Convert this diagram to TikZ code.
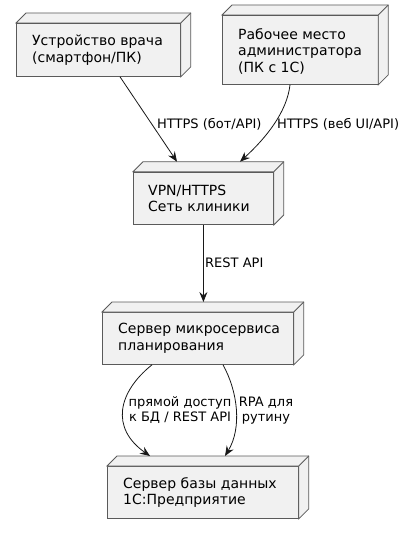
\documentclass[tikz,border=0pt]{standalone}
\usepackage{fontspec}
\setmainfont{DejaVu Sans}
\usetikzlibrary{calc,arrows.meta}
\definecolor{nodef}{HTML}{F1F1F1}
\definecolor{bordc}{HTML}{5A5A5A}
\definecolor{linec}{HTML}{181818}
\tikzset{
  dbox/.style={draw=bordc, fill=nodef, line width=0.8pt, anchor=north west, inner sep=0pt},
  dface/.style={draw=bordc, fill=nodef, line width=0.8pt, line join=miter},
  dtext/.style={anchor=west, inner sep=0pt, align=left, font=\fontsize{14}{16.5}\selectfont},
  elabel/.style={inner sep=0pt, font=\fontsize{13}{15}\selectfont},
  arr/.style={draw=linec, line width=0.8pt, -{Stealth[length=10pt,width=8pt,inset=3.5pt]}},
}
\begin{document}
\begin{tikzpicture}[x=1pt,y=-1pt]
\useasboundingbox (0,0) rectangle (403,534);
% front faces
\node[dbox, minimum width=164pt, minimum height=53pt] (n1) at (16,23) {};
\node[dbox, minimum width=155.5pt, minimum height=69pt] (n2) at (222,15) {};
\node[dbox, minimum width=140pt, minimum height=52.5pt] (n3) at (133,171.7) {};
\node[dbox, minimum width=191pt, minimum height=52pt] (n4) at (102,312) {};
\node[dbox, minimum width=191pt, minimum height=52pt] (n5) at (107,466) {};
% 3D faces
\foreach \n in {n1,n2,n3,n4,n5}{
  \filldraw[dface] (\n.north west) -- ++(10,-10) -- ([shift={(10,-10)}]\n.north east)
     -- ([shift={(10,-10)}]\n.south east) -- (\n.south east) -- (\n.north east) -- cycle;
  \draw[dface] (\n.north east) -- ++(10,-10);
}
% texts
\node[dtext] (t1) at ($(n1.west)+(16,0)$) {Устройство врача\\(смартфон/ПК)};
\node[dtext] (t2) at ($(n2.west)+(16,1.5)$) {Рабочее место\\администратора\\(ПК с 1С)};
\node[dtext] (t3) at ($(n3.west)+(15,0)$) {VPN/HTTPS\\Сеть клиники};
\node[dtext] (t4) at ($(n4.west)+(16,0)$) {Сервер микросервиса\\планирования};
\node[dtext] (t5) at ($(n5.west)+(16,0)$) {Сервер базы данных\\1С:Предприятие};
% connectors
\coordinate (n4top) at ($(n4.north west)+(0,-10)$);
\draw[arr] ($(n1.south west)+(104,0)$) -- ($(n3.north west)+(44,-10)$);
\draw[arr] ($(n2.south west)+(68,0)$) .. controls (287,112) and (266,138) .. ($(n3.north west)+(107,-10)$);
\draw[arr] (n3.south) -- (n3.south |- n4top);
\draw[arr] ($(n4.south west)+(50,0)$) .. controls (118,392) and (110,428) .. ($(n5.north west)+(43,-10)$);
\draw[arr] ($(n4.south west)+(121,0)$) .. controls (238,392) and (242,428) .. ($(n5.north west)+(118,-10)$);
% labels
\node[elabel, anchor=west] (l1) at (157,124) {HTTPS (бот/API)};
\node[elabel, anchor=west] (l2) at (277,124) {HTTPS (веб UI/API)};
\node[elabel, anchor=west] (l3) at (205,263) {REST API};
\node[elabel, align=center] (l4) at (180,410.5) {прямой доступ\\к БД / REST API};
\node[elabel, align=center] (l5) at (266,410.5) {RPA для\\рутину};
\end{tikzpicture}
\end{document}
